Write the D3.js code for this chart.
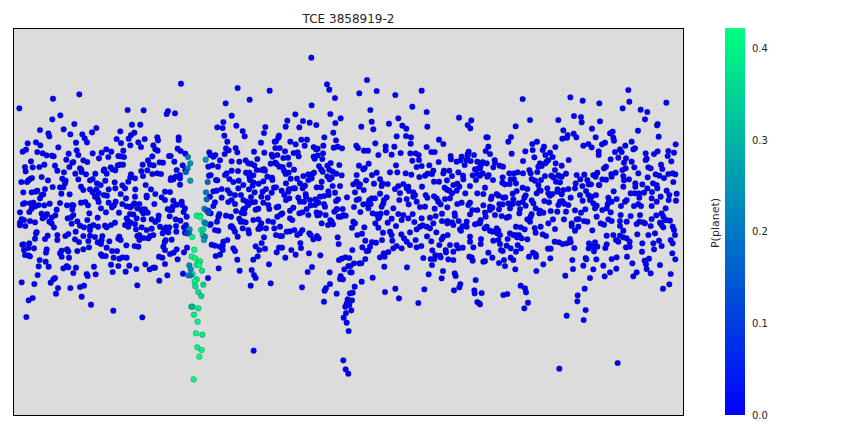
<!DOCTYPE html>
<html><head><meta charset="utf-8">
<script src="https://cdn.jsdelivr.net/npm/d3@7/dist/d3.min.js"></script>
<style>html,body{margin:0;padding:0;background:#fff}svg{display:block}text{font-family:"DejaVu Sans",sans-serif;fill:#262626}</style>
</head><body><div id="chart"></div>
<script>
const title = "TCE 3858919-2";
const colorLabel = "P(planet)";
const colorTicks = [0, 0.1, 0.2, 0.3, 0.4];
const colorMax = 0.4224;
// readings [phase, depth] in three consecutive phase windows
const windowStarts = [0, 720, 1440];
const phaseDomain = [0, 2052];
const depthDomain = [0, 1200];
const windowA = [[543,191],[713,204],[238,223],[159,236],[58,265],[677,250],[383,270],[431,271],[504,273],[500,282],[525,280],[695,287],[181,286],[157,298],[670,306],[223,312],[396,314],[421,314],[652,322],[668,324],[709,317],[289,324],[120,330],[191,328],[361,334],[276,337],[403,338],[393,345],[145,340],[148,349],[211,343],[247,343],[673,347],[254,355],[350,357],[386,356],[434,357],[472,352],[474,361],[536,352],[536,360],[682,365],[261,367],[228,368],[363,369],[415,367],[108,367],[83,370],[121,376],[175,382],[391,376],[423,381],[460,376],[707,384],[678,385],[686,391],[319,388],[230,391],[78,389],[68,395],[112,396],[128,400],[140,406],[156,407],[161,409],[206,401],[278,400],[305,398],[334,395],[370,392],[466,388],[473,392],[533,386],[542,393],[556,401],[628,397],[631,405],[646,405],[674,402],[712,397],
[235,405],[199,419],[297,415],[325,411],[355,408],[362,409],[372,411],[457,409],[507,408],[512,408],[250,421],[262,426],[93,424],[220,426],[217,428],[360,434],[369,434],[353,436],[428,434],[444,421],[479,427],[489,428],[523,425],[637,436],[654,440],[640,410],[660,421],[695,424],[625,440],[75,441],[98,442],[118,441],[133,434],[165,437],[208,441],[240,445],[313,448],[332,442],[337,448],[346,451],[450,434],[461,436],[548,436],[718,425],
[77,454],[172,452],[192,457],[226,461],[244,449],[245,456],[311,452],[320,461],[424,453],[442,451],[457,462],[472,460],[483,462],[530,450],[540,465],[556,451],[680,460],[675,465],[695,452],[714,453],[632,465],[627,467],[125,471],[187,476],[258,463],[286,461],[393,463],[391,472],[429,468],[513,474],[520,478],[527,470],[540,475],[96,474],[90,477],[85,481],[64,486],[81,486],[144,481],[197,482],[235,478],[270,481],[278,477],[291,490],[302,495],[316,482],[344,487],[385,485],[405,475],[652,481],[648,480],[688,477],[700,486],[716,482],[512,480],[195,490],[540,494],
[135,507],[158,501],[180,502],[190,502],[243,500],[250,510],[289,508],[326,508],[346,505],[367,496],[375,505],[437,495],[453,508],[495,515],[510,516],[70,517],[95,517],[107,515],[112,512],[184,521],[209,523],[270,508],[278,517],[296,519],[312,525],[321,527],[362,522],[406,508],[405,530],[466,522],[440,527],[640,514],[650,512],[665,507],[683,510],[690,520],[715,505],[705,525],[630,530],[125,525],[130,523],[120,535],
[378,535],[347,545],[326,548],[293,536],[285,530],[256,546],[243,548],[180,549],[149,551],[74,549],[100,548],[116,555],[69,552],[90,550],[133,556],[201,556],[216,555],[220,556],[264,556],[296,546],[380,559],[367,552],[395,558],[403,550],[418,552],[440,532],[463,552],[485,532],[495,540],[520,542],[545,545],[546,555],[645,547],[665,533],[685,546],[695,540],[106,559],[103,556],[95,566],[170,569],[217,568],[342,556],[336,562],[303,565],[428,568],[435,568],[391,562],[412,565],[503,567],[515,568],[530,554],[518,560],[555,565],[640,558],[705,552],
[60,577],[88,576],[125,581],[141,582],[220,585],[268,580],[318,577],[357,578],[390,582],[400,583],[425,572],[430,580],[443,578],[476,587],[516,570],[551,576],[510,570],[135,590],[128,595],[155,593],[166,586],[203,595],[213,592],[293,593],[380,595],[384,603],[410,595],[430,598],[455,598],[474,599],[509,589],[527,598],[541,602],[560,590],[632,580],[658,582],[678,587],[693,590],[708,573],[718,596],[65,597],[72,600],[60,608],[90,603],[105,607],[148,605],[155,610],[215,611],[232,604],[262,600],[345,608],[392,608],[466,606],[480,620],[528,618],[632,612],[651,605],[655,590],[695,618],[60,616],[76,618],[162,622],[240,617],
[252,622],[270,620],[280,615],[294,620],[315,617],[333,615],[375,615],[385,620],[405,612],[425,622],[455,626],[498,622],[508,622],[552,622],[558,615],[492,630],[488,640],[270,630],[320,622],[408,628],[440,630],[529,635],[555,638],[630,615],[645,630],[655,632],[692,620],[110,636],[108,640],[172,645],[227,635],[205,642],[196,648],[250,648],[270,647],[285,651],[307,648],[358,650],[355,656],[328,664],[305,660],[412,648],[418,645],[460,645],[450,648],[505,637],[143,647],[135,657],[172,660],[225,658],[237,666],[265,663],[293,667],[303,672],[362,660],[418,660],[431,654],[445,655],[497,660],[515,659],[105,656],[88,670],[67,674],[71,673],[713,650],[700,625],[705,635],
[72,690],[85,684],[102,685],[140,688],[138,698],[185,692],[180,700],[185,710],[207,713],[201,688],[205,694],[232,693],[250,688],[267,682],[320,683],[336,693],[351,693],[379,676],[404,678],[415,680],[494,666],[490,680],[495,690],[510,702],[521,698],[530,688],[552,697],[561,683],[635,674],[645,677],[660,680],[668,677],[668,690],[660,704],[647,708],[682,660],[670,665],[700,685],[705,693],[75,705],[85,706],[90,709],[303,703],[307,708],[317,708],[341,713],[358,716],[368,712],[380,713],[477,710],[487,713],[533,718],[119,720],[137,725],[333,734],[355,738],[388,737],[436,733],[449,748],[460,743],[465,743],[495,732],[200,738],[190,745],[205,742],[228,743],[282,740],[116,739],[146,740],[409,747],[712,719],[719,752],[656,745],[260,762],[263,768],[220,759],[287,763],[338,756],[377,755],[549,761],[113,765],[502,766],[165,774],[160,778],[152,788],[65,787],[103,792],[624,774],[478,782],[412,796],[240,801],[252,797],[174,804],[211,804],[168,821],[245,830],[98,834],[86,841],[273,854],[340,872],[79,891],[427,892]];
const windowB = [[214,113],[261,193],[381,180],[268,209],[89,212],[358,220],[410,213],[466,225],[545,212],[29,239],[285,234],[215,256],[517,260],[391,270],[560,276],[271,282],[166,283],[657,293],[142,302],[189,303],[209,308],[302,295],[286,309],[229,315],[137,320],[76,321],[178,322],[395,305],[364,320],[447,311],[475,295],[487,317],[499,326],[562,320],[694,301],[683,315],[691,325],[400,328],[8,333],[72,339],[14,349],[280,338],[117,347],[115,353],[253,352],[184,359],[201,359],[288,361],[470,349],[498,348],[513,352],[108,364],[104,365],[63,368],[151,365],[167,373],[194,377],[250,377],[406,370],[512,371],[597,359],[610,372],[106,384],[119,384],[221,381],[233,386],[281,383],[293,380],[306,385],[349,377],[354,384],[372,392],[384,392],[437,379],[463,380],[560,381],[135,394],[42,395],[73,398],[161,399],[173,397],[228,388],[249,400],[437,391],[455,404],[482,399],[511,400],[527,400],[536,405],[574,396],[584,396],[686,395],[683,402],[702,405],[415,405],[95,404],[98,410],[112,405],[130,414],[144,413],[176,409],[221,410],[233,406],[247,417],[224,416],[632,408],[633,418],[665,410],[683,408],[662,421],[650,425],[537,420],[517,422],[596,426],[680,420],[692,423],[17,421],[25,430],[92,431],[106,428],[110,432],[33,431],[43,436],[52,417],[118,440],[128,441],[148,434],[162,449],[237,438],[243,448],[262,437],[272,429],[298,435],[357,437],[386,431],[468,436],[374,444],[370,448],[530,441],[545,438],[568,436],[674,435],[712,425],[715,445],[705,448],[50,450],[72,447],[75,452],[65,450],[18,458],[28,458],[40,466],[132,452],[137,462],[146,458],[248,455],[268,449],[278,455],[289,461],[305,466],[350,465],[396,465],[410,458],[450,457],[472,457],[497,460],[514,464],[538,471],[555,467],[563,461],[576,462],[580,452],[612,452],[628,452],[610,460],[636,468],[655,457],[669,467],[698,466],[712,462],[720,467],[82,470],[96,473],[28,470],[30,480],[190,468],[205,463],[217,462],[222,458],[171,476],[152,476],[262,469],[275,473],[269,478],[378,481],[402,491],[420,477],[427,490],[443,492],[582,485],[597,485],[621,481],[640,495],[652,491],[670,478],[658,500],[690,498],[708,480],[40,487],[56,491],[70,484],[97,480],[10,495],[38,497],[27,508],[68,515],[78,507],[102,503],[108,502],[95,518],[125,512],[138,490],[160,505],[147,507],[145,515],[165,505],[180,490],[195,497],[205,480],[215,475],[188,505],[230,502],[243,502],[245,485],[278,498],[300,498],[340,493],[350,485],[357,500],[360,493],[425,498],[475,498],[490,492],[505,500],[500,505],[546,500],[614,503],[621,509],[628,512],[636,520],[650,512],[676,520],[712,520],
[3,525],[33,531],[44,517],[64,530],[83,533],[133,525],[148,535],[175,533],[197,522],[198,530],[240,530],[252,528],[265,514],[266,525],[285,518],[321,532],[345,517],[371,510],[420,521],[465,507],[480,519],[507,513],[520,517],[525,525],[557,525],[562,533],[582,529],[590,535],[615,537],[630,535],[10,540],[20,545],[35,547],[45,546],[70,548],[138,540],[180,545],[192,545],[210,540],[226,538],[235,548],[288,543],[294,538],[350,540],[357,537],[395,535],[405,535],[388,540],[440,532],[432,540],[478,540],[500,537],[520,530],[530,545],[595,545],[602,553],[652,552],[665,548],[690,548],[685,555],[25,555],[15,565],[10,568],[55,566],[47,569],[85,555],[88,567],[110,562],[115,560],[150,572],[160,563],[200,567],[212,556],[225,555],[252,552],[255,560],[290,568],[308,567],[342,561],[370,553],[382,551],[392,552],[385,565],[430,550],[425,560],[460,565],[506,553],[540,561],[555,560],[584,566],[622,562],[697,570],[712,570],[5,578],[13,580],[127,580],[122,584],[178,580],[187,577],[205,585],[230,577],[240,580],[257,585],[283,575],[291,567],[296,590],[310,585],[317,587],[361,576],[398,580],[410,583],[422,581],[440,578],[475,582],[490,585],[518,582],[606,581],[644,580],[645,588],[690,583],[2,605],[8,604],[17,607],[55,598],[85,603],[99,606],[112,590],[150,595],[157,600],[232,586],[237,585],[271,600],[275,605],[303,590],[415,595],[418,590],[455,596],[485,600],[505,595],[545,595],[570,593],[587,588],[606,603],[622,603],[656,603],[680,605],[715,610],[705,613],[64,610],[60,620],[40,600],
[8,625],[25,630],[27,640],[55,627],[62,625],[78,625],[103,625],[120,620],[245,610],[264,615],[279,613],[336,623],[340,605],[345,610],[373,622],[406,610],[415,623],[443,608],[468,618],[523,606],[530,628],[540,620],[548,616],[560,620],[570,625],[580,610],[622,610],[636,607],[640,615],[660,628],[668,618],[680,620],[690,650],[663,632],[140,635],[150,634],[163,630],[187,630],[180,640],[172,645],[108,645],[120,648],[126,648],[208,640],[212,645],[231,648],[236,655],[220,658],[293,652],[352,645],[366,641],[429,638],[450,635],[455,645],[484,643],[510,637],[589,637],[623,645],[610,650],[605,658],[561,649],[527,660],[574,664],[492,655],[500,665],[457,662],[426,660],[376,662],[396,666],[408,668],[390,680],[367,682],[385,692],[380,693],[72,652],[65,669],[181,669],[183,684],[296,672],[117,683],[126,683],[110,697],[47,679],[58,690],[75,686],[154,690],[167,704],[207,700],[241,706],[337,690],[136,713],[53,709],[40,719],[87,733],[598,675],[630,675],[650,675],[655,685],[668,683],[700,682],[722,672],[690,665],[470,678],[460,685],[485,685],[510,675],[530,682],[544,678],[445,696],[431,700],[420,712],[434,710],[577,691],[617,690],[618,697],[640,695],[586,705],[600,707],[602,712],[572,717],[550,714],[583,717],[625,718],[640,720],[688,710],[695,712],[698,722],[316,712],[328,714],[297,720],[305,716],[342,730],[358,730],[364,730],[376,717],[433,740],[501,742],[576,735],[325,738],[331,738],[313,748],[331,757],[335,757],[216,741],[203,756],[269,757],[35,750],[42,765],[47,774],[302,768],[300,777],[309,778],[365,785],[398,773],[609,753],[566,763],[605,775],[644,760],[647,768],[707,780],[32,797],[92,790],[186,802],[270,792],[258,804],[254,812],[290,821],[344,800],[338,818],[330,820],[435,816],[466,806],[553,808],[642,811],[661,792],[658,802],[703,811],[704,820],[477,835],[535,849],[252,845],[323,838],[336,841],[320,850],[316,860],[328,855],[334,871],[318,879],[311,893],[320,908],[326,933],[712,846],[718,850],[41,992],[310,1021],[317,1048],[325,1061]];
const windowC = [[445,210],[271,232],[128,237],[308,242],[448,245],[358,250],[559,248],[428,265],[482,269],[502,276],[282,288],[303,291],[150,300],[235,300],[495,298],[305,307],[360,304],[533,312],[531,316],[107,319],[336,326],[474,332],[250,331],[281,341],[398,335],[390,340],[289,352],[93,351],[19,352],[23,352],[347,352],[263,345],[261,353],[247,356],[400,353],[402,362],[536,350],[85,365],[455,365],[171,365],[157,372],[375,368],[366,373],[325,372],[310,377],[335,382],[436,377],[587,373],[25,380],[192,380],[226,381],[465,385],[460,388],[188,390],[158,390],[136,394],[17,393],[30,402],[95,401],[210,398],[356,394],[356,405],[420,388],[425,396],[405,396],[533,394],[522,402],[497,400],[565,393],[582,398],[563,408],[196,405],[218,411],[163,412],[129,423],[205,420],[200,425],[266,420],[392,418],[415,413],[438,415],[500,416],[497,420],[455,425],[432,428],[574,424],[44,420],[45,428],[8,426],[20,430],[227,430],[180,430],[245,437],[175,440],[185,438],[196,430],[378,440],[372,445],[59,437],[69,440],[40,442],[3,435],[0,445],[505,442],[512,445],[543,434],[547,447],[437,445],[463,442],[427,450],[148,450],[225,450],[8,460],[26,465],[88,460],[102,460],[113,457],[129,460],[152,460],[172,456],[195,468],[214,467],[235,466],[258,461],[290,465],[313,464],[352,458],[407,458],[430,468],[475,460],[527,463],[538,467],[565,462],[578,460],[586,463],[22,470],[39,480],[68,472],[92,478],[102,477],[155,477],[165,482],[183,480],[220,472],[238,468],[245,470],[301,478],[322,480],[340,465],[347,470],[367,478],[378,479],[394,462],[395,470],[432,481],[447,478],[503,472],[552,474],[580,486],[67,488],[75,493],[89,492],[108,490],[175,495],[228,485],[240,487],[287,490],[326,493],[333,493],[357,495],[466,490],[487,493],[519,490],[530,495],[15,503],[128,503],[142,507],[178,510],[202,505],[233,508],[250,510],[265,507],[285,505],[318,513],[307,498],[358,495],[401,514],[430,500],[466,500],[502,505],[516,516],[532,505],[10,522],[35,530],[33,537],[50,522],[56,527],[70,533],[76,532],[98,521],[100,538],[110,513],[137,526],[133,533],[170,520],[182,512],[205,520],[210,527],[217,522],[232,515],[245,523],[300,525],[272,533],[325,525],[335,530],[348,525],[385,533],[410,537],[395,545],[452,520],[464,520],[477,520],[492,518],[478,533],[515,535],[542,530],[560,512],[568,525],[590,521],[588,542],[566,540],[10,556],[30,560],[37,563],[58,552],[68,553],[85,550],[98,552],[115,550],[128,546],[155,541],[160,550],[193,543],[207,547],[240,545],[247,543],[253,551],[265,555],[308,542],[330,540],[340,550],[350,557],[383,553],[387,545],[435,545],[440,540],[423,558],[462,558],[475,552],[483,558],[515,558],[530,545],[557,565],[30,570],[15,578],[57,568],[90,565],[120,567],[137,557],[180,572],[190,578],[167,565],[235,555],[212,573],[285,571],[316,568],[345,565],[367,570],[380,565],[392,577],[232,575],[258,575],[303,578],[118,580],[155,582],[17,590],[45,585],[65,588],[80,593],[87,590],[152,590],[142,598],[178,580],[350,590],[385,598],[395,603],[422,585],[452,588],[480,585],[515,597],[529,586],[545,580],[550,590],[560,600],[2,600],[0,610],[150,605],[205,610],[219,598],[252,598],[290,598],[296,597],[312,603],[322,605],[275,610],[362,610],[372,614],[420,603],[440,605],[478,605],[490,607],[555,600],[570,602],[540,608],[512,618],[550,622],[578,620],[14,625],[20,620],[30,632],[38,635],[50,625],[55,632],[108,620],[122,622],[134,628],[164,624],[182,620],[225,627],[295,620],[285,632],[275,618],[337,631],[420,618],[430,632],[470,612],[495,610],[545,615],[585,645],[582,630],[52,640],[60,645],[90,640],[100,645],[107,645],[117,645],[125,655],[142,658],[167,638],[188,643],[198,648],[270,657],[380,647],[400,645],[420,647],[430,652],[440,655],[472,643],[505,645],[525,640],[3,657],[40,662],[55,660],[60,672],[83,657],[111,652],[224,665],[237,667],[248,672],[260,670],[272,667],[327,670],[345,667],[408,660],[415,665],[449,665],[487,670],[520,670],[537,662],[572,660],[578,670],[80,677],[92,685],[113,675],[123,685],[283,684],[326,685],[340,680],[352,680],[380,673],[376,684],[438,682],[449,680],[545,678],[522,688],[63,690],[68,693],[108,695],[25,698],[204,686],[212,686],[342,694],[486,695],[577,700],[159,698],[167,703],[10,725],[15,723],[37,713],[72,720],[92,713],[100,720],[147,710],[168,710],[211,715],[277,720],[317,714],[319,718],[349,718],[395,717],[410,712],[441,710],[494,722],[507,716],[586,718],[57,729],[75,738],[190,733],[310,737],[370,737],[457,730],[540,735],[498,733],[106,748],[169,753],[279,747],[340,748],[390,757],[409,746],[500,747],[470,757],[512,760],[256,767],[330,774],[374,769],[460,769],[572,762],[122,797],[135,805],[138,817],[314,806],[549,806],[568,793],[5,819],[70,825],[82,822],[293,826],[292,844],[144,848],[0,853],[133,865],[317,870],[260,887],[311,900],[413,1029],[238,1046]];
// transit points in window A: [phase, depth, P(planet)]
const transit = [[564,411,.2],[571,430,.25],[563,445,.22],[558,456,.15],[571,482,.25],[617,419,.25],[623,486,.17],[618,517,.2],[620,538,.17],[613,566,.27],[618,570,.17],[625,572,.1],[625,578,.12],[590,587,.41],[600,587,.41],[601,592,.42],[613,607,.27],[617,610,.2],[603,630,.41],[610,628,.36],[608,645,.36],[615,650,.22],[612,660,.25],[569,628,.25],[567,640,.2],[560,640,.1],[577,651,.41],[583,689,.41],[575,709,.41],[586,715,.41],[600,723,.42],[595,730,.42],[590,735,.4],[598,735,.42],[568,736,.22],[572,748,.22],[606,752,.38],[578,762,.38],[572,766,.22],[565,766,.2],[590,778,.38],[584,785,.41],[586,799,.38],[610,794,.36],[595,816,.38],[604,828,.36],[578,860,.38],[574,860,.3],[595,865,.39],[582,884,.4],[593,905,.41],[588,940,.41],[607,944,.39],[592,982,.41],[605,990,.4],[598,1010,.42],[581,1078,.42]];

const W = 864, H = 432;
const box = {left: 13.5, right: 683.5, top: 28.5, bottom: 415.5};
const svg = d3.select("#chart").append("svg").attr("width", W).attr("height", H);

const x = d3.scaleLinear().domain(phaseDomain).range([0, 684]);
const y = d3.scaleLinear().domain(depthDomain).range([20, 420]);
const color = d3.scaleLinear().domain([0, colorMax]).range(["#0000ff", "#00ff80"]);

svg.append("rect").attr("x", box.left).attr("y", box.top)
  .attr("width", box.right - box.left).attr("height", box.bottom - box.top)
  .attr("fill", "#dcdcdc");

const points = [];
[windowA, windowB, windowC].forEach((w, i) => w.forEach(d =>
  points.push({phase: d[0] + windowStarts[i], depth: d[1], p: 0.002})));
transit.forEach(d => points.push({phase: d[0], depth: d[1], p: d[2]}));

svg.append("g").selectAll("circle").data(points).join("circle")
  .attr("cx", d => x(d.phase)).attr("cy", d => y(d.depth)).attr("r", 2.85)
  .attr("fill", d => color(d.p))
  .attr("stroke", "#000").attr("stroke-opacity", 0.4).attr("stroke-width", 0.5);

svg.append("rect").attr("x", box.left).attr("y", box.top)
  .attr("width", box.right - box.left).attr("height", box.bottom - box.top)
  .attr("fill", "none").attr("stroke", "#000").attr("stroke-width", 1);

svg.append("text").attr("x", 348.5).attr("y", 23).attr("text-anchor", "middle")
  .attr("font-size", 12).text(title);

// colour bar
const defs = svg.append("defs");
const grad = defs.append("linearGradient").attr("id", "cb")
  .attr("x1", 0).attr("x2", 0).attr("y1", 1).attr("y2", 0);
grad.append("stop").attr("offset", "0%").attr("stop-color", color(0));
grad.append("stop").attr("offset", "100%").attr("stop-color", color(colorMax));
const cbY = d3.scaleLinear().domain([0, colorMax]).range([415, 28]);
svg.append("rect").attr("x", 725).attr("y", 28).attr("width", 20).attr("height", 387)
  .attr("fill", "url(#cb)");
const axis = d3.axisRight(cbY).tickValues(colorTicks).tickSize(0).tickPadding(7)
  .tickFormat(d3.format(".1f"));
const ga = svg.append("g").attr("transform", "translate(745,0)").call(axis);
ga.select(".domain").remove();
ga.selectAll("text").attr("font-size", 10).attr("fill", "#262626")
  .style("font-family", '"DejaVu Sans",sans-serif');
svg.append("text").attr("transform", "translate(718.5,223) rotate(-90)")
  .attr("text-anchor", "middle").attr("font-size", 11).text(colorLabel);
</script></body></html>
